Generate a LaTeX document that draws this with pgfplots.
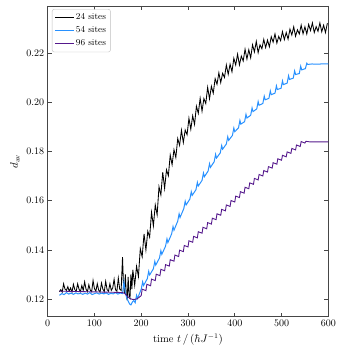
\documentclass[border=0pt]{standalone}
\usepackage{pgfplots}
\pgfplotsset{compat=1.18}
\definecolor{c24}{RGB}{0,0,0}
\definecolor{c54}{RGB}{40,145,255}
\definecolor{c96}{RGB}{85,25,140}
\definecolor{frame}{RGB}{70,70,70}

\begin{document}
\begin{tikzpicture}
\begin{axis}[
    scale only axis,
    width=280.6pt, height=310.7pt,
    xmin=0, xmax=600,
    ymin=0.1128, ymax=0.2393,
    xtick={0,100,...,600},
    ytick={0.12,0.14,0.16,0.18,0.20,0.22},
    yticklabel style={/pgf/number format/fixed, /pgf/number format/fixed zerofill, /pgf/number format/precision=2},
    tick align=inside,
    tick pos=both,
    major tick length=4pt,
    minor tick num=0,
    axis line style={frame, line width=0.6pt},
    every tick/.style={frame, line width=0.6pt},
    tick label style={font=\fontsize{10}{12}\selectfont},
    xlabel={time $t\,/\,(\hbar J^{-1})$},
    ylabel={$d_{\mathrm{av}}$},
    label style={font=\fontsize{10.5}{12}\selectfont},
    clip=false,
    legend cell align=left,
    legend style={at={(rel axis cs:0.0153,0.990)}, anchor=north west,
        draw=black!25, rounded corners=2pt, fill=white,
        font=\fontsize{9}{10}\selectfont, row sep=1.5pt,
        inner sep=2.5pt},
    legend image post style={line width=0.8pt},
    legend image code/.code={\draw[#1] (0cm,0cm) -- (0.65cm,0cm);},
]
% 24 sites
\addplot[c24, line width=0.85pt] coordinates {
(25,0.1230) (28,0.1238) (31,0.1228) (34,0.1262) (37,0.1240) (40,0.1235)
(43,0.1250) (46,0.1232) (49,0.1245) (52,0.1228) (55,0.1260) (58,0.1238)
(61,0.1232) (64,0.1262) (67,0.1240) (70,0.1230) (73,0.1255) (76,0.1235)
(79,0.1270) (82,0.1240) (85,0.1230) (88,0.1258) (91,0.1236) (94,0.1230)
(97,0.1275) (100,0.1242) (103,0.1232) (106,0.1262) (109,0.1236) (112,0.1228)
(115,0.1265) (118,0.1240) (121,0.1230) (124,0.1272) (127,0.1238) (130,0.1232)
(133,0.1262) (136,0.1235) (139,0.1245) (142,0.1280) (145,0.1238) (148,0.1232)
(151,0.1285) (154,0.1240) (157,0.1235) (160,0.1370) (162,0.1260) (164,0.1225)
(166,0.1300) (168,0.1220) (170,0.1195) (172,0.1290) (174,0.1215) (176,0.1205)
(178,0.1300) (180,0.1240)
(182,0.1319) (186,0.1256) (190,0.1333) (194,0.1292) (198,0.1405)
(202,0.1372) (206,0.1465) (210,0.1400) (214,0.1476) (218,0.1452)
(222,0.1553) (226,0.1498) (230,0.1583) (234,0.1543) (238,0.1657)
(242,0.1624) (246,0.1716) (250,0.1650) (254,0.1726) (258,0.1702)
(262,0.1786) (266,0.1747) (270,0.1808) (274,0.1776) (278,0.1853)
(282,0.1826) (286,0.1887) (290,0.1837) (294,0.1888) (298,0.1869)
(302,0.1936) (306,0.1891) (310,0.1946) (314,0.1911) (318,0.1985)
(322,0.1956) (326,0.2017) (330,0.1965) (334,0.2016) (338,0.1996)
(342,0.2062) (346,0.2015) (350,0.2066) (354,0.2038) (358,0.2097)
(362,0.2074) (366,0.2121) (370,0.2081) (374,0.2119) (378,0.2102)
(382,0.2153) (386,0.2115) (390,0.2156) (394,0.2125) (398,0.2180)
(402,0.2153) (406,0.2197) (410,0.2153) (414,0.2189) (418,0.2169)
(422,0.2217) (426,0.2177) (430,0.2215) (434,0.2182) (438,0.2235)
(442,0.2206) (446,0.2249) (450,0.2203) (454,0.2235) (458,0.2219)
(462,0.2257) (466,0.2224) (470,0.2254) (474,0.2227) (478,0.2268)
(482,0.2246) (486,0.2279) (490,0.2242) (494,0.2269) (498,0.2252)
(502,0.2289) (506,0.2256) (510,0.2285) (514,0.2258) (518,0.2299)
(522,0.2275) (526,0.2308) (530,0.2270) (534,0.2296) (538,0.2279)
(542,0.2315) (546,0.2280) (550,0.2308) (554,0.2279) (558,0.2318)
(562,0.2293) (566,0.2324) (570,0.2285) (574,0.2309) (578,0.2290)
(582,0.2324) (586,0.2288) (590,0.2315) (594,0.2285) (598,0.2323)
};
\addlegendentry{24 sites}
% 54 sites
\addplot[c54, line width=1pt] coordinates {
(25,0.1215) (30,0.1222) (35,0.1218) (40,0.1226) (45,0.1220) (50,0.1224)
(55,0.1219) (60,0.1225) (65,0.1221) (70,0.1223) (75,0.1219) (80,0.1224)
(85,0.1220) (90,0.1226) (95,0.1218) (100,0.1222) (105,0.1225) (110,0.1220)
(115,0.1224) (120,0.1221) (125,0.1225) (130,0.1219) (135,0.1223) (140,0.1221)
(145,0.1226) (150,0.1220) (155,0.1224) (160,0.1222) (163,0.1270) (166,0.1225)
(169,0.1205) (172,0.1192) (175,0.1180) (178,0.1176) (181,0.1188) (184,0.1194)
(187,0.1185) (190,0.1215) (192,0.1202)
(200,0.1240) (203,0.1270) (205,0.1255)
(213,0.1283) (216,0.1313) (218,0.1298)
(226,0.1323) (229,0.1353) (231,0.1338)
(239,0.1367) (242,0.1397) (244,0.1382)
(252,0.1415) (255,0.1445) (257,0.1430)
(265,0.1465) (268,0.1495) (270,0.1480)
(278,0.1517) (281,0.1547) (283,0.1532)
(291,0.1568) (294,0.1598) (296,0.1583)
(304,0.1607) (307,0.1637) (309,0.1622)
(317,0.1645) (320,0.1675) (322,0.1660)
(330,0.1683) (333,0.1713) (335,0.1698)
(343,0.1721) (346,0.1751) (348,0.1736)
(356,0.1759) (359,0.1789) (361,0.1774)
(369,0.1795) (372,0.1825) (374,0.1810)
(382,0.1831) (385,0.1861) (387,0.1846)
(395,0.1866) (398,0.1896) (400,0.1881)
(408,0.1897) (411,0.1927) (413,0.1912)
(421,0.1922) (424,0.1952) (426,0.1937)
(434,0.1948) (437,0.1978) (439,0.1963)
(447,0.1974) (450,0.2004) (452,0.1989)
(460,0.1996) (463,0.2026) (465,0.2011)
(473,0.2017) (476,0.2047) (478,0.2032)
(486,0.2038) (489,0.2068) (491,0.2053)
(499,0.2058) (502,0.2088) (504,0.2073)
(512,0.2079) (515,0.2109) (517,0.2094)
(525,0.2099) (528,0.2129) (530,0.2114)
(538,0.2118) (541,0.2148) (543,0.2133)
(551,0.2138) (554,0.2160) (556,0.2155)
(565,0.2157) (575,0.2156) (585,0.2157) (600,0.2157)
};
\addlegendentry{54 sites}
% 96 sites
\addplot[c96, line width=0.9pt] coordinates {
(25,0.1232) (50,0.1231) (75,0.1230) (100,0.1229) (125,0.1228) (150,0.1227)
(160,0.1226) (165,0.1222) (170,0.1212) (175,0.1203) (180,0.1199) (185,0.1198)
(190,0.1200) (195,0.1206)
(200,0.1214) (202,0.1240) (210,0.1234) (212,0.1260) (220,0.1254) (222,0.1281)
(230,0.1275) (232,0.1301) (240,0.1295) (242,0.1321) (250,0.1315) (252,0.1340)
(260,0.1334) (262,0.1360) (270,0.1354) (272,0.1379) (280,0.1373) (282,0.1399)
(290,0.1393) (292,0.1418) (300,0.1412) (302,0.1437) (310,0.1431) (312,0.1455)
(320,0.1449) (322,0.1474) (330,0.1468) (332,0.1492) (340,0.1486) (342,0.1511)
(350,0.1505) (352,0.1529) (360,0.1523) (362,0.1547) (370,0.1541) (372,0.1565)
(380,0.1559) (382,0.1583) (390,0.1577) (392,0.1601) (400,0.1595) (402,0.1619)
(410,0.1613) (412,0.1637) (420,0.1631) (422,0.1655) (430,0.1649) (432,0.1673)
(440,0.1667) (442,0.1691) (450,0.1685) (452,0.1707) (460,0.1701) (462,0.1723)
(470,0.1717) (472,0.1739) (480,0.1733) (482,0.1755) (490,0.1749) (492,0.1771)
(500,0.1765) (502,0.1785) (510,0.1779) (512,0.1799) (520,0.1793) (522,0.1813)
(530,0.1807) (532,0.1827) (540,0.1821) (542,0.1841) (550,0.1835) (552,0.1842)
(560,0.1840) (600,0.1840)
};
\addlegendentry{96 sites}
\path[draw=none] (rel axis cs:-0.170,-0.1265) rectangle (rel axis cs:1.038,1.0193);
\end{axis}
\end{tikzpicture}
\end{document}
